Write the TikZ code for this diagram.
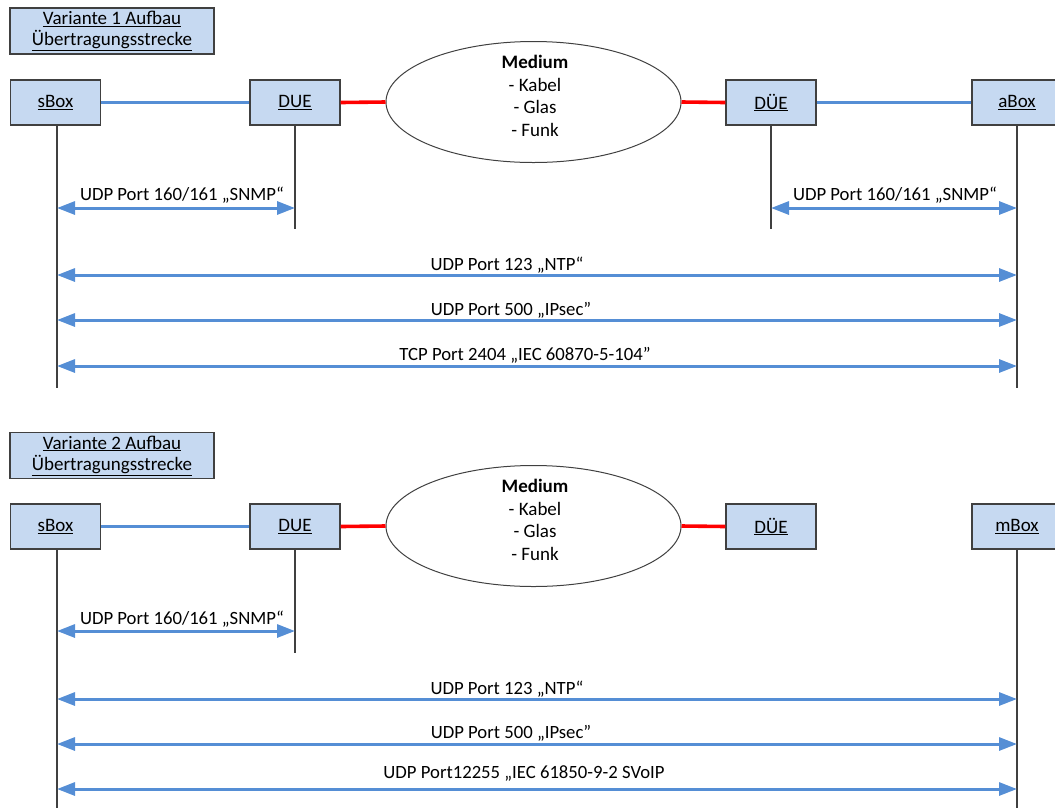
\documentclass[tikz,border=0pt]{standalone}
\usepackage{fontspec}
\setmainfont{Carlito}
\usetikzlibrary{arrows.meta,shapes.geometric}

\definecolor{boxfill}{RGB}{198,217,241}
\definecolor{boxline}{RGB}{64,64,64}
\definecolor{linkblue}{RGB}{85,142,213}
\definecolor{linkred}{RGB}{255,0,0}

\tikzset{
  every node/.style={font=\fontsize{19}{23}\selectfont},
  device/.style={draw=boxline, fill=boxfill, line width=1.2pt,
    minimum width=90pt, minimum height=45pt, inner sep=0pt},
  titlebox/.style={draw=boxline, fill=boxfill, line width=1.2pt,
    minimum width=204pt, minimum height=46pt, inner sep=0pt, align=center,
    font=\fontsize{19}{21}\selectfont},
  medium/.style={draw=boxline, ellipse, line width=1pt,
    minimum width=295pt, minimum height=121pt, inner sep=0pt},
  mtext/.style={align=center, inner sep=0pt, font=\fontsize{19}{22.5}\selectfont},
  lifeline/.style={draw=boxline, line width=1.2pt},
  lan/.style={draw=linkblue, line width=3.6pt},
  wan/.style={draw=linkred, line width=3.6pt},
  proto/.style={draw=linkblue, line width=3pt,
    {Triangle[length=18pt,width=13pt]}-{Triangle[length=18pt,width=13pt]}},
  plabel/.style={anchor=base, inner sep=0pt, font=\fontsize{18.7}{22}\selectfont}
}

\begin{document}
\begin{tikzpicture}[x=1pt, y=-1pt]
\useasboundingbox (0,0) rectangle (1055,807);

% ---------------- Variante 1 ----------------
\node[titlebox] (t1) at (112,31) {\underline{Variante 1 Aufbau}\\\underline{Übertragungsstrecke}};

\node[device] (s1) at (55.5,102.5) {\underline{sBox}};
\node[device] (d1) at (295,102.5) {\underline{DUE}};
\node[medium] (m1) at (533.5,102) {};
\node[mtext] at (535,96) {\textbf{Medium}\\- Kabel\\- Glas\\- Funk};
\node[device] (e1) at (771,102.5) {\underline{DÜE}};
\node[device] (a1) at (1017,102.5) {\underline{aBox}};

\draw[lan] (s1.east) -- (d1.west);
\draw[wan] (d1.east) -- (m1.west);
\draw[wan] (m1.east) -- (e1.west);
\draw[lan] (e1.east) -- (a1.west);

\coordinate (s1end) at (57,388);
\coordinate (d1end) at (295,229);
\coordinate (e1end) at (771,229);
\coordinate (a1end) at (1017,388);
\draw[lifeline] (s1.south -| s1end) -- (s1end);
\draw[lifeline] (d1.south) -- (d1end);
\draw[lifeline] (e1.south) -- (e1end);
\draw[lifeline] (a1.south) -- (a1end);

\coordinate (s1a) at (57,208);   \coordinate (d1a) at (295,208);
\coordinate (e1a) at (771,208);  \coordinate (a1a) at (1017,208);
\coordinate (s1b) at (57,275);   \coordinate (a1b) at (1017,275);
\coordinate (s1c) at (57,320);   \coordinate (a1c) at (1017,320);
\coordinate (s1d) at (57,366);   \coordinate (a1d) at (1017,366);

\draw[proto] (s1a) -- (d1a);
\draw[proto] (e1a) -- (a1a);
\draw[proto] (s1b) -- (a1b);
\draw[proto] (s1c) -- (a1c);
\draw[proto] (s1d) -- (a1d);

\node[plabel] (l1a) at (182,200) {UDP Port 160/161 „SNMP“};
\node[plabel] (l1b) at (895,200) {UDP Port 160/161 „SNMP“};
\node[plabel] (l1c) at (507,270) {UDP Port 123 „NTP“};
\node[plabel] (l1d) at (511,315) {UDP Port 500 „IPsec"};
\node[plabel] (l1e) at (525,360) {TCP Port 2404 „IEC 60870-5-104"};

% ---------------- Variante 2 ----------------
\node[titlebox] (t2) at (112,455.5) {\underline{Variante 2 Aufbau}\\\underline{Übertragungsstrecke}};

\node[device] (s2) at (55.5,526.5) {\underline{sBox}};
\node[device] (d2) at (295,526.5) {\underline{DUE}};
\node[medium] (m2) at (533.5,526) {};
\node[mtext] at (535,520) {\textbf{Medium}\\- Kabel\\- Glas\\- Funk};
\node[device] (e2) at (771,526.5) {\underline{DÜE}};
\node[device] (a2) at (1017,526.5) {\underline{mBox}};

\draw[lan] (s2.east) -- (d2.west);
\draw[wan] (d2.east) -- (m2.west);
\draw[wan] (m2.east) -- (e2.west);

\coordinate (s2end) at (57,810);
\coordinate (d2end) at (295,653);
\coordinate (a2end) at (1017,810);
\draw[lifeline] (s2.south -| s2end) -- (s2end);
\draw[lifeline] (d2.south) -- (d2end);
\draw[lifeline] (a2.south) -- (a2end);

\coordinate (s2a) at (57,631);   \coordinate (d2a) at (295,631);
\coordinate (s2b) at (57,699);   \coordinate (a2b) at (1017,699);
\coordinate (s2c) at (57,744);   \coordinate (a2c) at (1017,744);
\coordinate (s2d) at (57,789);   \coordinate (a2d) at (1017,789);

\draw[proto] (s2a) -- (d2a);
\draw[proto] (s2b) -- (a2b);
\draw[proto] (s2c) -- (a2c);
\draw[proto] (s2d) -- (a2d);

\node[plabel] (l2a) at (182,624) {UDP Port 160/161 „SNMP“};
\node[plabel] (l2c) at (507,694) {UDP Port 123 „NTP“};
\node[plabel] (l2d) at (511,738) {UDP Port 500 „IPsec"};
\node[plabel] (l2e) at (524,778) {UDP Port12255 „IEC 61850-9-2 SVoIP};
\end{tikzpicture}
\end{document}
